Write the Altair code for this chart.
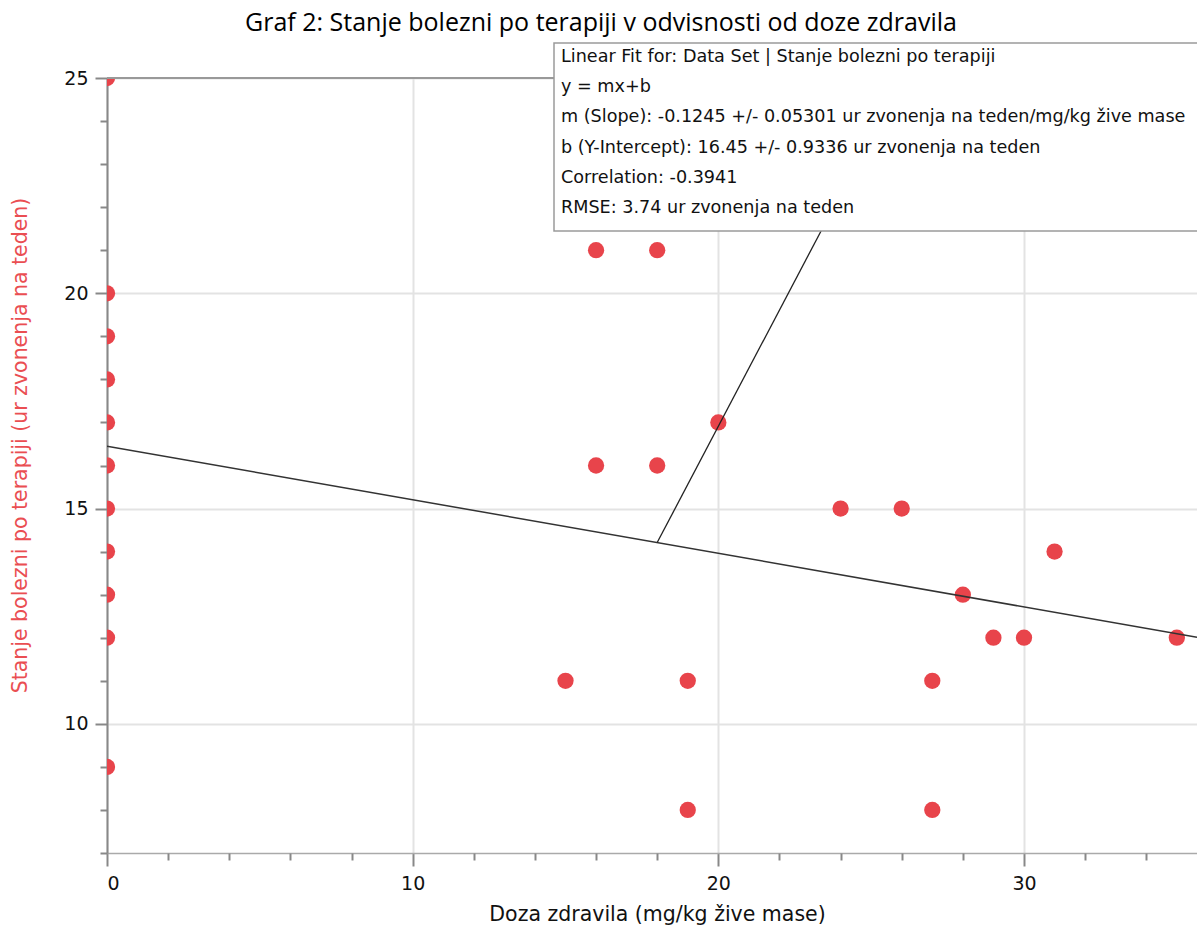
import altair as alt
import pandas as pd

# ---- data ----
DOSE = [0, 0, 0, 0, 0, 0, 0, 0, 0, 0, 0,
        16, 18, 20, 16, 18, 24, 26, 31, 28, 29, 30, 35, 15, 19, 27, 19, 27]
STATE = [25, 20, 19, 18, 17, 16, 15, 14, 13, 12, 9,
         21, 21, 17, 16, 16, 15, 15, 14, 13, 12, 12, 12, 11, 11, 11, 8, 8]

SLOPE = -0.1245
INTERCEPT = 16.45
X_DOMAIN = [0, 35.66]
Y_DOMAIN = [7, 25]
FIT_X = [0, 35.66]
CALLOUT_X = [18, 23.4]
CALLOUT_Y = [14.21, 21.5]

X_MAJOR = [0, 10, 20, 30]
X_MINOR = [2, 4, 6, 8, 12, 14, 16, 18, 22, 24, 26, 28, 32, 34]
Y_MAJOR = [10, 15, 20, 25]
Y_MINOR = [7, 8, 9, 11, 12, 13, 14, 16, 17, 18, 19, 21, 22, 23, 24]

TITLE = "Graf 2: Stanje bolezni po terapiji v odvisnosti od doze zdravila"
X_TITLE = "Doza zdravila (mg/kg žive mase)"
Y_TITLE = "Stanje bolezni po terapiji (ur zvonenja na teden)"
BOX_LINES = [
    "Linear Fit for: Data Set | Stanje bolezni po terapiji",
    "y = mx+b",
    "m (Slope): -0.1245 +/- 0.05301 ur zvonenja na teden/mg/kg žive mase",
    "b (Y-Intercept): 16.45 +/- 0.9336 ur zvonenja na teden",
    "Correlation: -0.3941",
    "RMSE: 3.74 ur zvonenja na teden",
]

RED = "#e8444b"
FONT = "DejaVu Sans"

pts = pd.DataFrame({"dose": DOSE, "state": STATE})
fit = pd.DataFrame({"dose": FIT_X})
callout = pd.DataFrame({"dose": CALLOUT_X, "state": CALLOUT_Y})
one = pd.DataFrame({"k": [0]})

xs = alt.Scale(domain=X_DOMAIN, nice=False, zero=False)
ys = alt.Scale(domain=Y_DOMAIN, nice=False, zero=False)

x_major = alt.Axis(
    orient="bottom", values=X_MAJOR, format="d", tickSize=13, tickWidth=2,
    tickColor="#888888", domainColor="#aaaaaa", domainWidth=1.5,
    grid=True, gridColor="#e3e3e3", gridWidth=2,
    labelFont=FONT, labelFontSize=19, labelColor="#111111", labelPadding=8,
    title=X_TITLE, titleFont=FONT, titleFontSize=20.5, titleFontWeight="normal",
    titleColor="#111111", titleX=550, titleY=61, titleBaseline="middle",
    titleAnchor="middle",
)
y_major = alt.Axis(
    orient="left", values=Y_MAJOR, format="d", tickSize=12, tickWidth=2,
    tickColor="#888888", domainColor="#888888", domainWidth=2,
    grid=True, gridColor="#e3e3e3", gridWidth=2,
    labelFont=FONT, labelFontSize=19, labelColor="#111111", labelPadding=7,
    title=Y_TITLE, titleFont=FONT, titleFontSize=20.5, titleFontWeight="normal",
    titleColor="#ea4e52", titleX=-87, titleY=367, titleAngle=-90,
    titleAlign="center", titleBaseline="middle",
)
x_minor = alt.Axis(
    orient="bottom", values=X_MINOR, tickSize=7, tickWidth=2,
    tickColor="#888888", labels=False, domain=False, grid=False, title=None,
)
y_minor = alt.Axis(
    orient="left", values=Y_MINOR, tickSize=7, tickWidth=2,
    tickColor="#888888", labels=False, domain=False, grid=False, title=None,
)

points = alt.Chart(pts).mark_circle(size=265, color=RED, opacity=1, clip=True).encode(
    x=alt.X("dose:Q", scale=xs, axis=x_major),
    y=alt.Y("state:Q", scale=ys, axis=y_major),
)

minor = alt.Chart(pts).mark_point(opacity=0).encode(
    x=alt.X("dose:Q", scale=xs, axis=x_minor),
    y=alt.Y("state:Q", scale=ys, axis=y_minor),
)

top_rule = alt.Chart(one).mark_rule(color="#999999", strokeWidth=2).encode(
    y=alt.Y(datum=Y_DOMAIN[1], scale=ys, axis=None)
)

fit_line = alt.Chart(fit).transform_calculate(
    state=f"{INTERCEPT} + ({SLOPE}) * datum.dose"
).mark_line(color="#333333", strokeWidth=1.5, clip=True).encode(
    x=alt.X("dose:Q", scale=xs, axis=None),
    y=alt.Y("state:Q", scale=ys, axis=None),
)

callout_line = alt.Chart(callout).mark_line(color="#222222", strokeWidth=1.3).encode(
    x=alt.X("dose:Q", scale=xs, axis=None),
    y=alt.Y("state:Q", scale=ys, axis=None),
)

box = alt.Chart(one).mark_rect(
    fill="white", stroke="#9a9a9a", strokeWidth=1.5
).encode(
    x=alt.value(447), x2=alt.value(1100),
    y=alt.value(-35), y2=alt.value(153),
)

box_text = alt.Chart(one).mark_text(
    text=BOX_LINES, align="left", baseline="middle", lineHeight=30.3,
    font=FONT, fontSize=17.6, color="#111111",
).encode(x=alt.value(454), y=alt.value(-21.3))

title_text = alt.Chart(one).mark_text(
    text=TITLE, align="center", baseline="middle",
    font="Open Sans", fontSize=25, color="#000000",
).encode(x=alt.value(494), y=alt.value(-55))

chart = alt.layer(
    points, minor, top_rule, fit_line, callout_line, box, box_text, title_text
).resolve_axis(
    x="independent", y="independent"
).properties(
    width=1090, height=775,
    autosize=alt.AutoSizeParams(type="none"),
    padding={"left": 107, "top": 78, "right": 0, "bottom": 72},
).configure_view(stroke=None).configure(background="white")

chart.save("out.html", embed_options={"renderer": "svg", "actions": False})
